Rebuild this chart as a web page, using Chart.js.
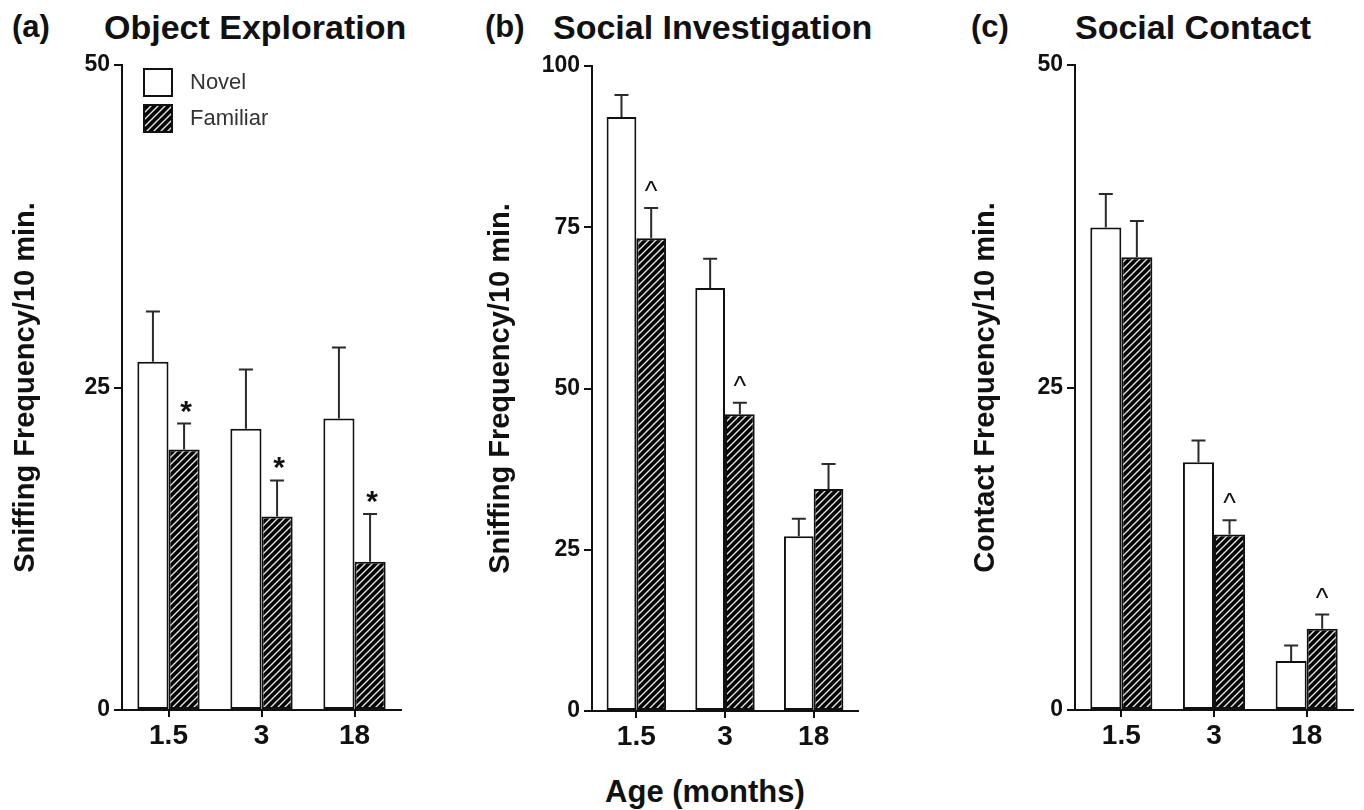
<!DOCTYPE html>
<html>
<head>
<meta charset="utf-8">
<script src="https://cdn.jsdelivr.net/npm/chart.js@4.4.1/dist/chart.umd.min.js"></script>
<style>
body { margin:0; background:#fff; width:1364px; height:810px; position:relative; overflow:hidden; font-family:"Liberation Sans", Arial, sans-serif; color:#111; }
canvas { position:absolute; }
.t { position:absolute; font-weight:bold; white-space:nowrap; line-height:1; }
</style>
</head>
<body>
<div class="t" style="left:12px;top:11px;font-size:31px">(a)</div>
<div class="t" style="left:104px;top:10px;font-size:34px">Object Exploration</div>
<div class="t" style="left:485px;top:11px;font-size:31px">(b)</div>
<div class="t" style="left:553px;top:10px;font-size:34px">Social Investigation</div>
<div class="t" style="left:971px;top:11px;font-size:31px">(c)</div>
<div class="t" style="left:1075px;top:10px;font-size:34px">Social Contact</div>

<canvas id="panelA" width="412" height="730" style="left:0;top:40px"></canvas>
<canvas id="panelB" width="398" height="730" style="left:470px;top:41px"></canvas>
<canvas id="panelC" width="410" height="730" style="left:953px;top:40px"></canvas>

<div class="t" style="left:505px;width:400px;text-align:center;top:776px;font-size:31px">Age (months)</div>

<script>
const ages = ['1.5', '3', '18'];
const seriesNames = ['Novel', 'Familiar'];

// (a) Object Exploration
const novelA = [27.0, 21.8, 22.6];
const novelErrA = [3.9, 4.6, 5.5];
const familiarA = [20.2, 15.0, 11.5];
const familiarErrA = [2.0, 2.8, 3.7];
const marksA = ['*', '*', '*'];

// (b) Social Investigation
const novelB = [92.1, 65.6, 27.1];
const novelErrB = [3.4, 4.5, 2.7];
const familiarB = [73.3, 46.0, 34.4];
const familiarErrB = [4.7, 1.8, 3.9];
const marksB = ['^', '^', ''];

// (c) Social Contact
const novelC = [37.4, 19.2, 3.8];
const novelErrC = [2.6, 1.7, 1.2];
const familiarC = [35.1, 13.6, 6.3];
const familiarErrC = [2.8, 1.1, 1.1];
const marksC = ['', '^', '^'];

const FONT = '"Liberation Sans", Arial, sans-serif';
const INK = '#111';

function hatch() {
  const c = document.createElement('canvas');
  c.width = 7; c.height = 7;
  const g = c.getContext('2d');
  g.fillStyle = '#000';
  g.fillRect(0, 0, 7, 7);
  g.strokeStyle = '#e6e6e6';
  g.lineWidth = 1.4;
  g.beginPath();
  g.moveTo(-1, 8); g.lineTo(8, -1);
  g.moveTo(-1, 1); g.lineTo(1, -1);
  g.moveTo(6, 8); g.lineTo(8, 6);
  g.stroke();
  return g.createPattern(c, 'repeat');
}
const hatchFill = hatch();

const errorBars = {
  id: 'errorBars',
  afterDatasetsDraw(chart) {
    const ctx = chart.ctx, y = chart.scales.y;
    chart.data.datasets.forEach((ds, i) => {
      chart.getDatasetMeta(i).data.forEach((bar, j) => {
        const top = y.getPixelForValue(ds.data[j] + ds.errors[j]);
        ctx.save();
        ctx.strokeStyle = '#2a2a2a';
        ctx.lineWidth = 2;
        ctx.beginPath();
        ctx.moveTo(bar.x, bar.y);
        ctx.lineTo(bar.x, top);
        ctx.moveTo(bar.x - 7, top);
        ctx.lineTo(bar.x + 7, top);
        ctx.stroke();
        const m = ds.marks && ds.marks[j];
        if (m) {
          ctx.fillStyle = INK;
          ctx.textAlign = 'center';
          ctx.textBaseline = 'alphabetic';
          if (m === '*') {
            ctx.font = 'bold 30px ' + FONT;
            ctx.fillText(m, bar.x + 2, top - 3);
          } else {
            ctx.font = '27px ' + FONT;
            ctx.fillText(m, bar.x, top - 8);
          }
        }
        ctx.restore();
      });
    });
  }
};

const boxLegend = {
  id: 'boxLegend',
  afterDraw(chart) {
    const ctx = chart.ctx;
    chart.data.datasets.forEach((ds, i) => {
      const y0 = 29 + i * 36;
      ctx.save();
      ctx.fillStyle = ds.backgroundColor;
      ctx.fillRect(144, y0, 28, 27);
      ctx.strokeStyle = INK;
      ctx.lineWidth = 2;
      ctx.strokeRect(144, y0, 28, 27);
      ctx.fillStyle = '#333';
      ctx.font = '22px ' + FONT;
      ctx.textBaseline = 'middle';
      ctx.fillText(ds.label, 190, y0 + 14);
      ctx.restore();
    });
  }
};

function makePanel(id, novel, novelErr, familiar, familiarErr, marks, yMax, yTitle, titlePad, padRight, withLegend) {
  const el = document.getElementById(id);
  return new Chart(el, {
    type: 'bar',
    data: {
      labels: ages,
      datasets: [{
        label: seriesNames[0],
        data: novel,
        errors: novelErr,
        backgroundColor: '#fff',
        borderColor: INK,
        borderWidth: 2,
        borderSkipped: false
      }, {
        label: seriesNames[1],
        data: familiar,
        errors: familiarErr,
        marks: marks,
        backgroundColor: hatchFill,
        borderColor: INK,
        borderWidth: 2,
        borderSkipped: false
      }]
    },
    plugins: withLegend ? [errorBars, boxLegend] : [errorBars],
    options: {
      responsive: false,
      animation: false,
      devicePixelRatio: 1,
      categoryPercentage: 0.67,
      barPercentage: 1.0,
      layout: { padding: { top: 25, right: padRight, left: 0, bottom: 0 } },
      plugins: {
        legend: { display: false },
        tooltip: { enabled: false }
      },
      scales: {
        x: {
          grid: { display: true, drawOnChartArea: false, offset: false, tickLength: 7, color: INK, lineWidth: 2 },
          border: { color: INK, width: 2 },
          ticks: { color: INK, font: { family: FONT, size: 28, weight: 'bold' }, padding: 2, maxRotation: 0 },
          afterFit(s) { s.height = 60; }
        },
        y: {
          min: 0,
          max: yMax,
          ticks: { stepSize: 25, color: INK, font: { family: FONT, size: 23, weight: 'bold' }, padding: 4 },
          grid: { drawOnChartArea: false, tickLength: 8, color: INK, lineWidth: 2 },
          border: { color: INK, width: 2 },
          title: {
            display: true,
            text: yTitle,
            color: INK,
            font: { family: FONT, size: 29, weight: 'bold' },
            padding: { top: titlePad, bottom: 0 }
          },
          afterFit(s) { s.width = 122; }
        }
      }
    }
  });
}

makePanel('panelA', novelA, novelErrA, familiarA, familiarErrA, marksA, 50, 'Sniffing Frequency/10 min.', 9, 11, true);
makePanel('panelB', novelB, novelErrB, familiarB, familiarErrB, marksB, 100, 'Sniffing Frequency/10 min.', 14, 10, false);
makePanel('panelC', novelC, novelErrC, familiarC, familiarErrC, marksC, 50, 'Contact Frequency/10 min.', 16, 10, false);
</script>
</body>
</html>
